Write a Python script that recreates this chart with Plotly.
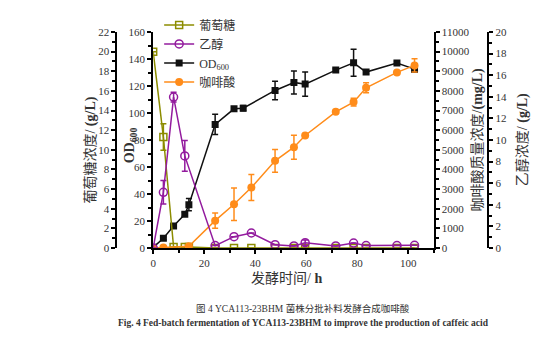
import plotly.graph_objects as go

# ---------------- data ----------------
t_od = [0, 4, 8, 12.4, 14, 24.3, 31.7, 35.3, 47.8, 55.2, 59.6, 71.6, 78.6, 83.5, 95.6, 102.5]
od = [0.5, 7.2, 16.3, 25, 32.1, 91.5, 103.1, 103.6, 116.7, 122.6, 121.4, 131.8, 137.2, 130.3, 137, 132.5]
od_err = [0.5, 1, 1, 1.5, 4.5, 7.5, 1, 2, 6.8, 8.5, 9, 1, 10, 1.5, 1, 2]

t_glu = [0, 4, 8, 12.4, 14, 24.3, 31.7, 38.5, 47.8, 55.2, 59.6, 71.6, 78.6, 83.5, 95.6, 102.5]
glu = [20.0, 11.3, 0.1, 0.1, 0.1, 0, 0, 0, 0, 0, 0, 0, 0, 0, 0, 0]
glu_err = [0, 1.35, 0, 0, 0, 0, 0, 0, 0, 0, 0, 0, 0, 0, 0, 0]

t_eth = [0, 4, 8, 12.4, 24.3, 31.7, 38.5, 47.8, 55.2, 59.6, 71.6, 78.6, 83.5, 95.6, 102.5]
eth = [0, 5.16, 13.97, 8.53, 0.22, 1.05, 1.39, 0.31, 0.19, 0.49, 0.19, 0.46, 0.22, 0.22, 0.25]
eth_err = [0, 1.08, 0.45, 1.42, 0, 0, 0, 0, 0, 0.26, 0, 0, 0, 0, 0]

t_caf = [0, 4, 14, 24.3, 31.7, 38.5, 47.8, 55.2, 59.6, 71.6, 78.6, 83.5, 95.6, 102.5]
caf = [0, 30, 85, 1394, 2227, 3077, 4437, 5134, 5729, 6936, 7429, 8160, 8942, 9299]
caf_err = [0, 0, 0, 390, 830, 660, 580, 610, 0, 0, 200, 250, 0, 340]

x_ticks = [0, 20, 40, 60, 80, 100]

# ---------------- layout geometry ----------------
W, H = 554, 344
ML, MR, MT, MB = 0, 0, 32, 96
X0, X1 = 151, 433          # plot area px
GLU_X, ETH_X = 114, 488    # extra axes px

SERIF = "Liberation Serif, Noto Sans CJK SC, serif"
TXT = "#333333"

OLIVE = "#8c8c00"
PURPLE = "#931b9e"
BLACK = "#111111"
ORANGE = "#ff8c1a"

fig = go.Figure()

fig.add_trace(go.Scatter(
    x=t_glu, y=glu, yaxis="y2", name="葡萄糖", mode="lines+markers",
    line=dict(color=OLIVE, width=1.5),
    marker=dict(symbol="square-open", size=7, color=OLIVE, line=dict(width=1.5)),
    error_y=dict(type="data", array=glu_err, color=OLIVE, thickness=1.5, width=3),
    legendrank=1))
fig.add_trace(go.Scatter(
    x=t_eth, y=eth, yaxis="y4", name="乙醇", mode="lines+markers",
    line=dict(color=PURPLE, width=1.5),
    marker=dict(symbol="circle-open", size=8, color=PURPLE, line=dict(width=1.5)),
    error_y=dict(type="data", array=eth_err, color=PURPLE, thickness=1.5, width=3),
    legendrank=2))
fig.add_trace(go.Scatter(
    x=t_od, y=od, yaxis="y", name="OD<sub>600</sub>", mode="lines+markers",
    line=dict(color=BLACK, width=1.5),
    marker=dict(symbol="square", size=7, color=BLACK),
    error_y=dict(type="data", array=od_err, color=BLACK, thickness=1.5, width=3),
    legendrank=3))
fig.add_trace(go.Scatter(
    x=t_caf, y=caf, yaxis="y3", name="咖啡酸", mode="lines+markers",
    line=dict(color=ORANGE, width=1.5),
    marker=dict(symbol="circle", size=8, color=ORANGE),
    error_y=dict(type="data", array=caf_err, color=ORANGE, thickness=1.5, width=3),
    legendrank=4))

axis_common = dict(
    showline=True, linecolor="black", linewidth=2,
    ticks="outside", ticklen=4, tickwidth=2, tickcolor="black",
    showgrid=False, zeroline=False, tickformat="d",
    tickfont=dict(family=SERIF, size=11, color=TXT),
)
minor_common = dict(ticks="outside", ticklen=3, tickwidth=1.5, tickcolor="black", showgrid=False)

fig.update_layout(
    width=W, height=H,
    margin=dict(l=ML, r=MR, t=MT, b=MB),
    paper_bgcolor="white", plot_bgcolor="rgba(0,0,0,0)",
    showlegend=True,
    legend=dict(x=157 / W, y=1.10, xanchor="left", yanchor="top",
                bgcolor="rgba(0,0,0,0)", font=dict(family=SERIF, size=12, color=TXT),
                tracegroupgap=0, itemwidth=30),
    xaxis=dict(domain=[X0 / W, X1 / W], range=[0, 110], tickvals=x_ticks,
               minor=dict(dtick=10, **minor_common), anchor="y", **axis_common),
    yaxis=dict(range=[0, 160], dtick=20, minor=dict(dtick=10, **minor_common),
               anchor="x", side="left", **axis_common),
    yaxis2=dict(range=[0, 22], dtick=2, minor=dict(dtick=1, **minor_common),
                overlaying="y", anchor="free", position=GLU_X / W, side="left", **axis_common),
    yaxis3=dict(range=[0, 11000], dtick=1000, minor=dict(dtick=500, **minor_common),
                overlaying="y", anchor="x", side="right", **axis_common),
    yaxis4=dict(range=[0, 20], dtick=2, minor=dict(dtick=1, **minor_common),
                overlaying="y", anchor="free", position=ETH_X / W, side="right", **axis_common),
)

def py(px):
    return (H - MB - px) / (H - MT - MB)

anns = [
    dict(text="葡萄糖浓度/ <b>(g/L)</b>", x=88 / W, y=py(150), textangle=-90, size=14),
    dict(text="<b>OD<sub>600</sub></b>", x=128 / W, y=py(145), textangle=-90, size=14),
    dict(text="咖啡酸质量浓度/<b>(mg/L)</b>", x=478 / W, y=py(140), textangle=-90, size=14),
    dict(text="乙醇浓度/ <b>(g/L)</b>", x=522 / W, y=py(140), textangle=-90, size=14),
    dict(text="发酵时间/ <b>h</b>", x=285 / W, y=py(278), textangle=0, size=14),
    dict(text="图 4 YCA113-23BHM 菌株分批补料发酵合成咖啡酸", x=302 / W, y=py(308), textangle=0, size=9.5),
    dict(text="<b>Fig. 4 Fed-batch fermentation of YCA113-23BHM to improve the production of caffeic acid</b>",
         x=302 / W, y=py(323), textangle=0, size=9.5),
]
for a in anns:
    fig.add_annotation(text=a["text"], x=a["x"], y=a["y"], xref="paper", yref="paper",
                       textangle=a["textangle"], showarrow=False,
                       xanchor="center", yanchor="middle",
                       font=dict(family=SERIF, size=a["size"], color=TXT))

fig.write_html("out.html")
